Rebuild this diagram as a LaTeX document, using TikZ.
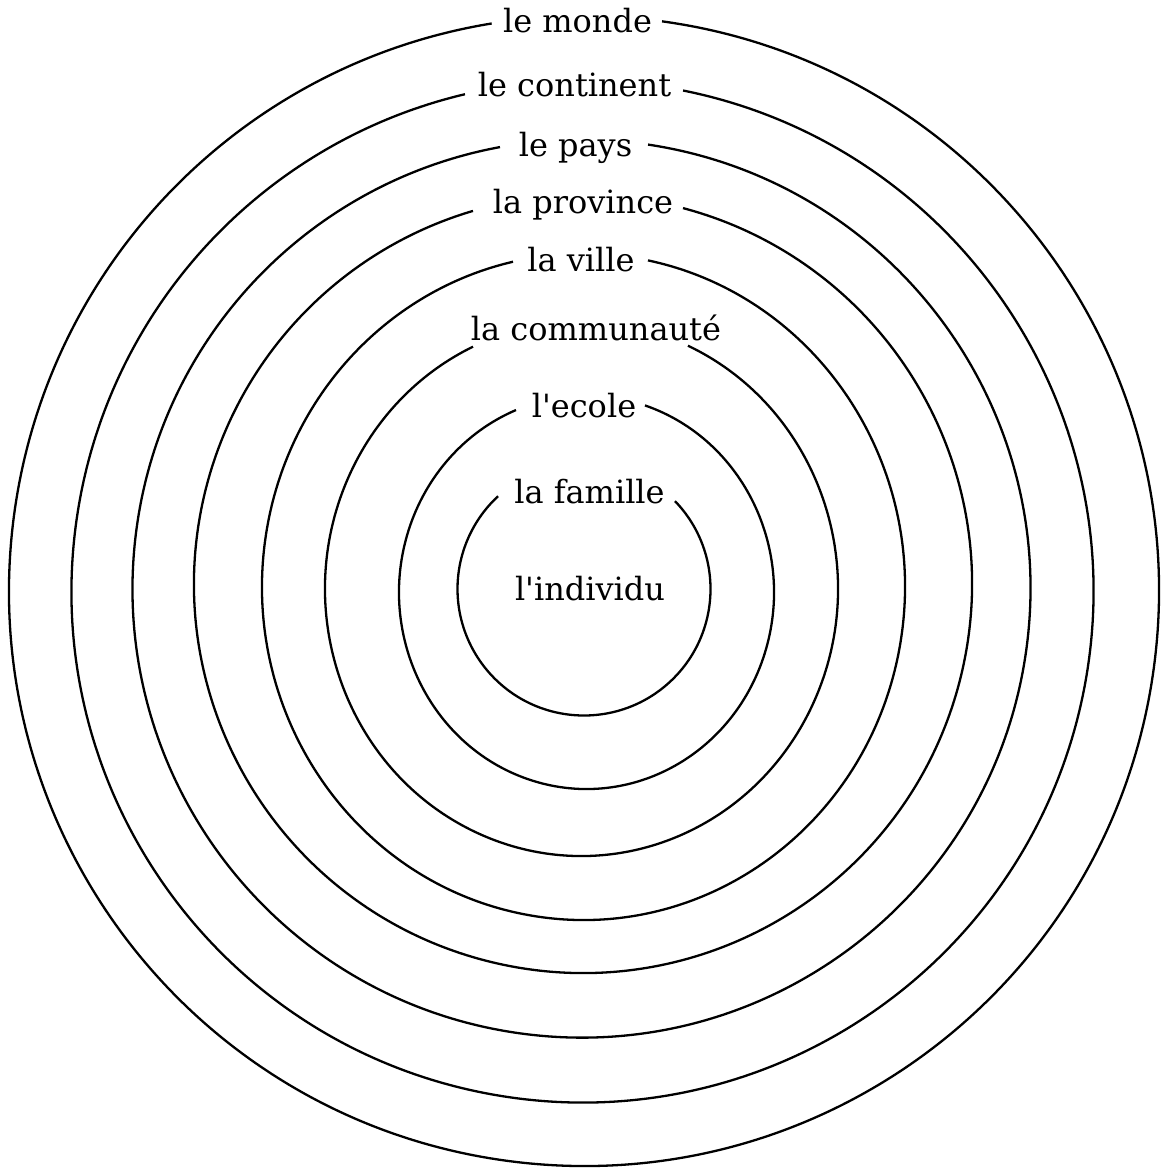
\documentclass[tikz,border=0pt]{standalone}
\usepackage{fontspec}
\setmainfont{DejaVu Serif}
\begin{document}
\begin{tikzpicture}[x=1pt,y=1pt,
  ring/.style={line width=2.3pt},
  lbl/.style={anchor=base,inner sep=0pt,font=\fontsize{32}{38}\selectfont}]
\useasboundingbox (0,0) rectangle (1160,-1169);
% rings: center, radii, right-end angle, left-end angle
\draw[ring] [shift={(584,-591)}] (82.2:575 and 575) arc[start angle=82.2,end angle=-260.76,x radius=575,y radius=575];
\draw[ring] [shift={(582.5,-591.5)}] (78.65:511 and 511) arc[start angle=78.65,end angle=-256.7,x radius=511,y radius=511];
\draw[ring] [shift={(581.5,-588.6)}] (81.48:449 and 449) arc[start angle=81.48,end angle=-259.54,x radius=449,y radius=449];
\draw[ring] [shift={(583,-584)}] (75.1:389 and 389) arc[start angle=75.1,end angle=-253.57,x radius=389,y radius=389];
\draw[ring] [shift={(583.5,-586.8)}] (78.43:321.5 and 333.2) arc[start angle=78.43,end angle=-257.33,x radius=321.5,y radius=333.2];
\draw[ring] [shift={(581.5,-588.8)}] (65.47:256.5 and 267.2) arc[start angle=65.47,end angle=-244.98,x radius=256.5,y radius=267.2];
\draw[ring] [shift={(586.5,-592.3)}] (71.82:187.5 and 196.7) arc[start angle=71.82,end angle=-247.91,x radius=187.5,y radius=196.7];
\draw[ring] [shift={(584,-589)}] (44:126.5 and 126.5) arc[start angle=44,end angle=-227.17,x radius=126.5,y radius=126.5];
% labels
\node[lbl] (monde) at (577.5,-33) {le monde};
\node[lbl] (continent) at (574.5,-97) {le continent};
\node[lbl] (pays) at (575.5,-157) {le pays};
\node[lbl] (province) at (583,-213) {la province};
\node[lbl] (ville) at (581,-271.7) {la ville};
\node[lbl] (communaute) at (596,-340) {la communauté};
\node[lbl] (ecole) at (584,-417.7) {l\textquotesingle ecole};
\node[lbl] (famille) at (589.5,-503) {la famille};
\node[lbl] (individu) at (590,-600) {l\textquotesingle individu};
\end{tikzpicture}
\end{document}
